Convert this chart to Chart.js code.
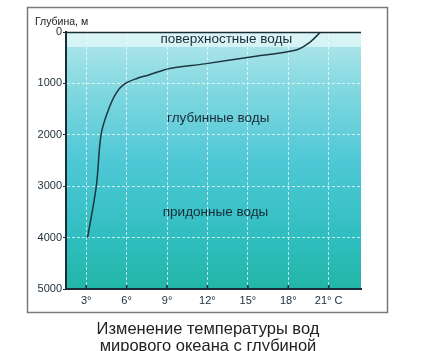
<!DOCTYPE html>
<html>
<head>
<meta charset="utf-8">
<script src="https://cdn.jsdelivr.net/npm/chart.js@4/dist/chart.umd.min.js"></script>
<style>
  html, body { margin: 0; padding: 0; background: #fff; }
  #wrap { position: relative; width: 428px; height: 351px; overflow: hidden; }
  #cv { position: absolute; left: 0; top: 0; }
  .lbl { position: absolute; font-family: "Liberation Sans", Arial, sans-serif; color: #222; white-space: nowrap; }
</style>
</head>
<body>
<div id="wrap">
  <canvas id="cv" width="428" height="351"></canvas>
  <div class="lbl" style="left:35px; top:15px; font-size:10.5px;">Глубина, м</div>
  <div class="lbl" style="left:0; width:416px; top:320px; font-size:16.5px; text-align:center; line-height:17px;">Изменение температуры вод<br>мирового океана с глубиной</div>
</div>
<script>
// temperature profile, °C vs depth, m
const temps  = [3.1, 3.75, 4.1, 4.6, 5.2, 5.8, 6.8, 7.6, 9.2, 11.8, 15.1, 18.6, 19.6, 20.4];
const depths = [4000, 3000, 2000, 1550, 1200, 1020, 900, 840, 710, 620, 490, 350, 200, 0];

const xTicks = [3, 6, 9, 12, 15, 18, 21];
const yTicks = [0, 1000, 2000, 3000, 4000, 5000];

// water layer captions
const zoneNames  = ['поверхностные воды', 'глубинные воды', 'придонные воды'];
const zoneTemps  = [13.4, 12.8, 12.6];
const zoneDepths = [140, 1670, 3500];
const surfaceDepth = 290;

const ink = '#1b2c38';
const font = '"Liberation Sans", Arial, sans-serif';

const framePlugin = {
  id: 'frame',
  beforeDraw(chart) {
    const ctx = chart.ctx;
    ctx.save();
    ctx.fillStyle = '#fff';
    ctx.fillRect(0, 0, chart.width, chart.height);
    ctx.strokeStyle = '#7a7a7a';
    ctx.lineWidth = 1.5;
    ctx.strokeRect(27.5, 7.5, 360, 305);
    ctx.restore();
  }
};

const waterPlugin = {
  id: 'water',
  beforeDraw(chart) {
    const { ctx, chartArea: a, scales } = chart;
    ctx.save();
    const g = ctx.createLinearGradient(0, a.top, 0, a.bottom);
    g.addColorStop(0, '#b4e8ec');
    g.addColorStop(0.25, '#7dd6df');
    g.addColorStop(0.5, '#4fc8d6');
    g.addColorStop(0.8, '#30bec0');
    g.addColorStop(1, '#22b6a6');
    ctx.fillStyle = g;
    ctx.fillRect(a.left, a.top, a.right - a.left, a.bottom - a.top);
    const yb = scales.y.getPixelForValue(surfaceDepth);
    ctx.fillStyle = 'rgba(230,248,248,0.75)';
    ctx.fillRect(a.left, a.top, a.right - a.left, yb - a.top);
    ctx.restore();
  },
  afterDatasetsDraw(chart) {
    const { ctx, scales } = chart;
    ctx.save();
    ctx.fillStyle = ink;
    ctx.font = '13.5px ' + font;
    ctx.textAlign = 'center';
    ctx.textBaseline = 'middle';
    zoneNames.forEach((t, i) => {
      ctx.fillText(t, scales.x.getPixelForValue(zoneTemps[i]), scales.y.getPixelForValue(zoneDepths[i]));
    });
    ctx.restore();
  }
};

new Chart(document.getElementById('cv').getContext('2d'), {
  type: 'scatter',
  data: {
    datasets: [{
      data: temps.map((t, i) => ({ x: t, y: depths[i] })),
      showLine: true,
      borderColor: '#1d3540',
      borderWidth: 1.5,
      pointRadius: 0,
      tension: 0.35
    }]
  },
  options: {
    responsive: false,
    animation: false,
    layout: { padding: { left: 28, top: 32, right: 67, bottom: 42 } },
    plugins: { legend: { display: false }, tooltip: { enabled: false } },
    scales: {
      x: {
        type: 'linear', min: 1.5, max: 23.4,
        afterBuildTicks: s => { s.ticks = xTicks.map(v => ({ value: v })); },
        afterFit: s => { s.height = 20; },
        border: { display: true, color: ink, width: 2, dash: [3, 2] },
        grid: { color: 'rgba(255,255,255,0.7)', lineWidth: 1, drawTicks: false },
        ticks: {
          color: ink, padding: 5, maxRotation: 0,
          font: { size: 11, family: font },
          callback: v => v === 21 ? '21° C' : v + '°'
        }
      },
      y: {
        type: 'linear', min: 0, max: 5000, reverse: true,
        afterBuildTicks: s => { s.ticks = yTicks.map(v => ({ value: v })); },
        afterFit: s => { s.width = 38; },
        border: { display: true, color: ink, width: 2, dash: [3, 2] },
        grid: { color: 'rgba(255,255,255,0.7)', lineWidth: 1, tickColor: ink, tickLength: 3 },
        ticks: {
          color: ink, padding: 1,
          font: { size: 11, family: font },
          callback: v => String(v)
        }
      }
    }
  },
  plugins: [framePlugin, waterPlugin, {
    id: 'topline',
    afterDraw(chart) {
      const { ctx, chartArea: a } = chart;
      ctx.save();
      ctx.strokeStyle = ink;
      ctx.lineWidth = 1.5;
      ctx.beginPath();
      ctx.moveTo(a.left, a.top + 0.5);
      ctx.lineTo(a.right, a.top + 0.5);
      ctx.stroke();
      ctx.beginPath();
      xTicks.forEach(v => {
        const x = chart.scales.x.getPixelForValue(v);
        ctx.moveTo(x, a.bottom);
        ctx.lineTo(x, a.bottom - 4);
      });
      ctx.stroke();
      ctx.restore();
    }
  }]
});
</script>
</body>
</html>
